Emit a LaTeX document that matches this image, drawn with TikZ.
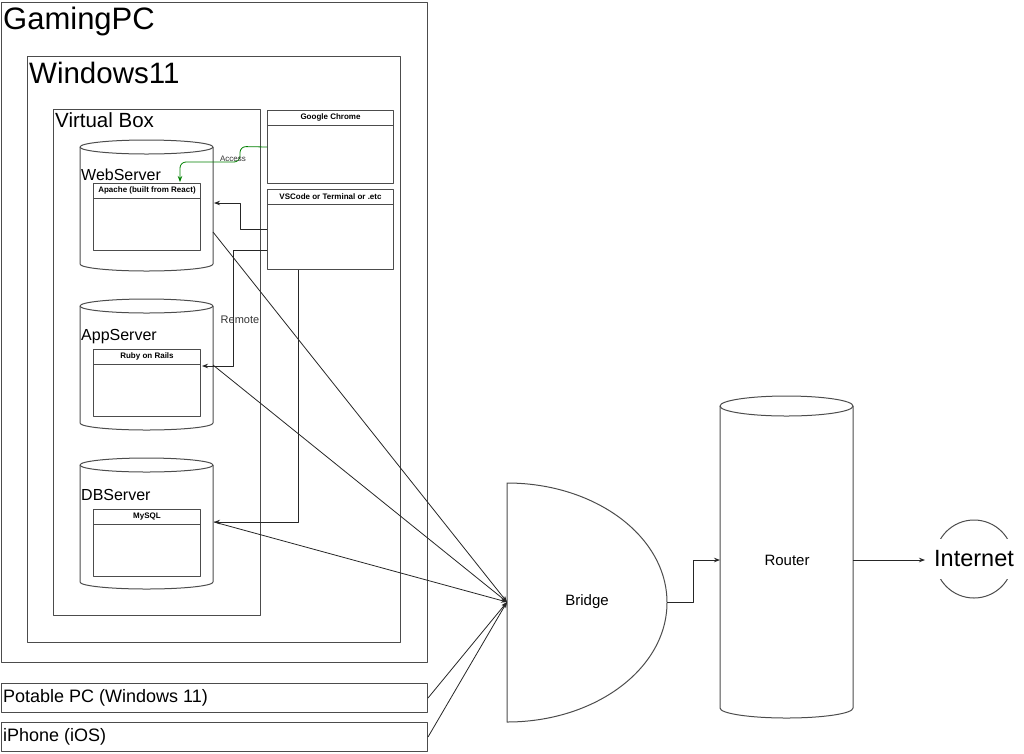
\documentclass[tikz,border=0pt]{standalone}
\usepackage{fontspec}
\setmainfont{Liberation Sans}
\usetikzlibrary{arrows.meta}
\newcommand{\fsz}[1]{\fontsize{#1}{#1}\selectfont}
\tikzset{
	frame/.style={draw=black!70, line width=1pt, anchor=north west, inner sep=0pt},
	shapeline/.style={draw=black!70, line width=1pt},
	txt/.style={inner sep=0pt, text=black},
	hdr/.style={inner sep=0pt, font=\fsz{8}\bfseries},
	conn/.style={draw=black!85, line width=0.8pt, -{Stealth[length=6pt,width=4.5pt]}},
}
\begin{document}
\begin{tikzpicture}[x=1pt, y=1pt, line join=round, font=\fsz{8}]
	\useasboundingbox (0,0) rectangle (1024,-753);
	% containers
	\node[frame, minimum width=426, minimum height=660] (gaming) at (1,-2) {};
	\node[txt, anchor=base west, font=\fsz{31}] (gaming-t) at (3,-29) {GamingPC};
	\node[frame, minimum width=373, minimum height=586] (win) at (27,-56) {};
	\node[txt, anchor=base west, font=\fsz{29.5}] (win-t) at (29,-83) {Windows11};
	\node[frame, minimum width=207, minimum height=506] (vbox) at (53,-109) {};
	\node[txt, anchor=base west, font=\fsz{20.5}] (vbox-t) at (55,-127) {Virtual Box};
	% apps on the host
	\node[frame, minimum width=126, minimum height=73] (chrome) at (267,-110) {};
	\draw[shapeline] ([yshift=-15pt]chrome.north west) -- ([yshift=-15pt]chrome.north east);
	\node[hdr] at ([yshift=-7.5pt]chrome.north) {Google Chrome};
	\node[frame, minimum width=126, minimum height=80] (vscode) at (267,-189) {};
	\draw[shapeline] ([yshift=-15pt]vscode.north west) -- ([yshift=-15pt]vscode.north east);
	\node[hdr] at ([yshift=-7.5pt]vscode.north) {VSCode or Terminal or .etc};
	% servers
	\foreach \n/\yt/\yl/\yb/\lbl/\app in {web/140/180/183/WebServer/Apache (built from React),
		app/299/340/349/AppServer/Ruby on Rails, db/458/500/509/DBServer/MySQL}{
		\draw[shapeline] (80,-\yt-7) -- (80,-\yt-124) arc[start angle=180, end angle=360, x radius=66.5, y radius=7] -- (213,-\yt-7);
		\draw[shapeline] (146.5,-\yt-7) ellipse[x radius=66.5, y radius=7];
		\node[txt, anchor=base west, font=\fsz{16}] (\n-t) at (81,-\yl) {\lbl};
		\node[frame, minimum width=107, minimum height=67] (\n-box) at (93,-\yb) {};
		\draw[shapeline] ([yshift=-15pt]\n-box.north west) -- ([yshift=-15pt]\n-box.north east);
		\node[hdr] at ([yshift=-7.5pt]\n-box.north) {\app};
	}
	% other devices
	\node[frame, minimum width=426, minimum height=29] (pc) at (1,-683) {};
	\node[txt, anchor=west, font=\fsz{18}] (pc-t) at (3,-697.5) {Potable PC (Windows 11)};
	\node[frame, minimum width=426, minimum height=29] (iphone) at (1,-722) {};
	\node[txt, anchor=west, font=\fsz{18}] (iphone-t) at (3,-736.5) {iPhone (iOS)};
	% bridge, router, internet
	\draw[shapeline] (507,-483) arc[start angle=90, end angle=-90, x radius=160, y radius=119.5] -- cycle;
	\node[txt, font=\fsz{15}] (bridge) at (587,-602) {Bridge};
	\draw[shapeline] (720,-406) -- (720,-708) arc[start angle=180, end angle=360, x radius=66.5, y radius=10] -- (853,-406);
	\draw[shapeline] (786.5,-406) ellipse[x radius=66.5, y radius=10];
	\node[txt, font=\fsz{15}] (router) at (787,-560) {Router};
	\node[draw=black!70, line width=1pt, circle, minimum size=78] (inet-c) at (974,-559) {};
	\node[fill=white, inner xsep=0pt, minimum height=40, font=\fsz{23.5}] (inet) at (974,-559) {Internet};
	% connection points
	\coordinate (acc-in) at (180,-182);
	\coordinate (web-in) at (214,-203);
	\coordinate (app-in) at (202,-366);
	\coordinate (db-in) at (214,-522);
	\coordinate (web-out) at (213,-232);
	\coordinate (app-out) at (213,-365);
	\coordinate (db-out) at (214,-522);
	\coordinate (br-in) at (507,-602);
	\coordinate (br-out) at (667,-602);
	\coordinate (rt-in) at (720,-560);
	\coordinate (rt-out) at (853,-560);
	\coordinate (inet-in) at (925,-560);
	% connectors
	\draw[conn, draw=green!50!black, rounded corners=6pt] (chrome.west) -- (240,-146.5) -- (240,-162) -- (180,-162) -- (acc-in);
	\node[txt, font=\fsz{8}, text=black!80] (access) at (233,-159) {Access};
	\draw[conn] (vscode.west) -- ++(-27,0) |- (web-in);
	\draw[conn] ([yshift=20pt]vscode.south west) -- ++(-34,0) |- (app-in);
	\node[txt, font=\fsz{11}, text=black!80] (remote) at (240,-320) {Remote};
	\draw[conn] ([xshift=-32pt]vscode.south) |- (db-in);
	\foreach \s in {web-out, app-out, db-out, pc.east, iphone.east}
		\draw[conn] (\s) -- (br-in);
	\draw[conn] (br-out) -- (693,-602) |- (rt-in);
	\draw[conn] (rt-out) -- (inet-in);
\end{tikzpicture}
\end{document}
